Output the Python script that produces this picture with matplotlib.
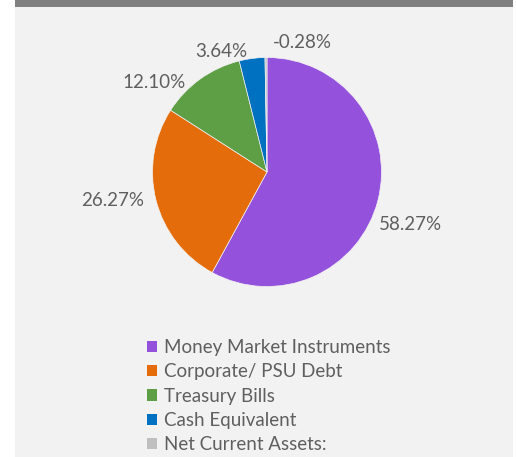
import matplotlib
matplotlib.use('Agg')
import matplotlib.pyplot as plt
from matplotlib.patches import Rectangle, Patch

# data
categories = ['Money Market Instruments', 'Corporate/ PSU Debt', 'Treasury Bills',
              'Cash Equivalent', 'Net Current Assets:']
shares = [58.27, 26.27, 12.10, 3.64, -0.28]
colours = ['#9452dc', '#e46c0a', '#5e9e45', '#0070c0', '#bfbfbf']

# where the percentage labels sit (in pie radius units)
label_xy = [(1.25, -0.46), (-1.35, -0.245), (-0.99, 0.78), (-0.40, 1.05), (0.31, 1.13)]

W, H = 516, 457
fig = plt.figure(figsize=(W / 100, H / 100), dpi=100)
fig.patch.set_facecolor('white')

# grey panel and dark band on top
fig.patches.append(Rectangle((15 / W, 0), 498 / W, 1, transform=fig.transFigure,
                             facecolor='#f2f2f2', edgecolor='none', zorder=-2))
fig.patches.append(Rectangle((15 / W, 1 - 7 / H), 498 / W, 7 / H, transform=fig.transFigure,
                             facecolor='#7f7f7f', edgecolor='none', zorder=-1))

txtcol = '#5f5f5f'
fnt = 'Lato'
fs = 13.5

cx, cy, r = 267, 172, 114.5
ax = fig.add_axes([(cx - r) / W, (H - cy - r) / H, 2 * r / W, 2 * r / H])
ax.set_facecolor('none')
wedges, _ = ax.pie([abs(v) for v in shares], colors=colours, startangle=90,
                   counterclock=False, radius=1,
                   wedgeprops=dict(edgecolor='#f2f2f2', linewidth=0.5))
ax.set_xlim(-1, 1)
ax.set_ylim(-1, 1)
ax.set_aspect('equal')
ax.axis('off')

for v, (lx, ly) in zip(shares, label_xy):
    ax.text(lx, ly, '%.2f%%' % v, ha='center', va='center', fontsize=fs,
            color=txtcol, family=fnt, clip_on=False)

handles = [Patch(facecolor=c, edgecolor='none') for c in colours]
leg = fig.legend(handles, categories, loc='upper left',
                 bbox_to_anchor=(147 / W, 1 - 339 / H), frameon=False,
                 prop={'family': fnt, 'size': fs},
                 handlelength=0.55, handleheight=0.55, handletextpad=0.35,
                 labelspacing=0.39, borderpad=0, borderaxespad=0)
for t in leg.get_texts():
    t.set_color(txtcol)

plt.savefig('out.png', dpi=100, facecolor=fig.get_facecolor())
